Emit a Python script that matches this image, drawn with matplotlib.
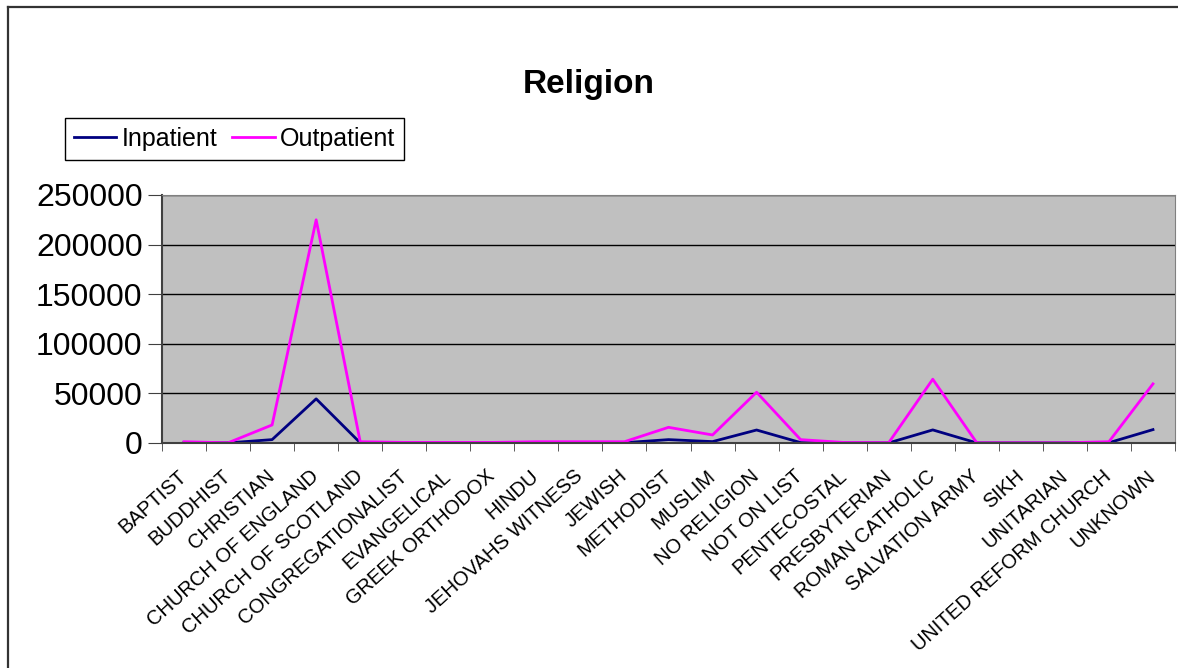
import matplotlib
matplotlib.use("Agg")
import matplotlib.pyplot as plt
import matplotlib.transforms as mtransforms
from matplotlib.lines import Line2D
from matplotlib.ticker import FixedLocator

plt.rcParams['font.family'] = ['Liberation Sans', 'DejaVu Sans']

religions = ['BAPTIST', 'BUDDHIST', 'CHRISTIAN', 'CHURCH OF ENGLAND', 'CHURCH OF SCOTLAND',
             'CONGREGATIONALIST', 'EVANGELICAL', 'GREEK ORTHODOX', 'HINDU', 'JEHOVAHS WITNESS',
             'JEWISH', 'METHODIST', 'MUSLIM', 'NO RELIGION', 'NOT ON LIST', 'PENTECOSTAL',
             'PRESBYTERIAN', 'ROMAN CATHOLIC', 'SALVATION ARMY', 'SIKH', 'UNITARIAN',
             'UNITED REFORM CHURCH', 'UNKNOWN']

inpatient = [400, 100, 3400, 44500, 200, 100, 100, 100, 300, 300,
             300, 3400, 1400, 13100, 400, 100, 100, 13200, 100, 100,
             100, 300, 13500]

outpatient = [1300, 200, 18200, 225000, 1300, 600, 600, 600, 1300, 1300,
              1300, 15800, 8100, 51200, 3400, 500, 300, 64300, 200, 200,
              200, 1300, 59600]

y_ticks = [0, 50000, 100000, 150000, 200000, 250000]

fig = plt.figure(figsize=(11.78, 6.68), dpi=100)
ax = fig.add_axes([162 / 1178, 1 - 443 / 668, 1013 / 1178, 248 / 668])
ax.set_facecolor('#C0C0C0')

x = list(range(len(religions)))
l1, = ax.plot(x, inpatient, color='#000080', lw=2.0, label='Inpatient')
l2, = ax.plot(x, outpatient, color='#FF00FF', lw=2.0, label='Outpatient')

ax.set_xlim(-0.5, len(religions) - 0.5)
ax.set_ylim(0, 250000)
ax.set_yticks(y_ticks)
ax.set_yticklabels([str(v) for v in y_ticks], fontsize=23)
ax.yaxis.grid(True, color='black', lw=1)
ax.set_axisbelow(True)

ax.set_xticks(x)
ax.set_xticklabels(religions, fontsize=14.5, rotation=42, ha='right', va='center',
                   rotation_mode='anchor')
shift = mtransforms.ScaledTranslation(-8 / 100, 0, fig.dpi_scale_trans)
for lab in ax.get_xticklabels():
    lab.set_transform(lab.get_transform() + shift)
ax.xaxis.set_minor_locator(FixedLocator([i - 0.5 for i in range(len(religions) + 1)]))
ax.tick_params(axis='x', which='major', length=0, pad=22)
ax.tick_params(axis='x', which='minor', length=6, color='#404040')
ax.tick_params(axis='y', length=10, pad=4, color='#404040')

for side in ['top', 'right']:
    ax.spines[side].set_color('#808080')
ax.spines['left'].set_color('#404040')
ax.spines['bottom'].set_color('#404040')
ax.spines['left'].set_linewidth(1.5)
ax.spines['bottom'].set_linewidth(1.5)

fig.text(0.5, 1 - 85 / 668, 'Religion', ha='center', va='center', fontsize=24, fontweight='bold')

fig.legend(handles=[l1, l2], loc='upper left', bbox_to_anchor=(65 / 1178, 1 - 118 / 668),
           ncol=2, fontsize=18, frameon=True, fancybox=False, edgecolor='black',
           framealpha=1, borderaxespad=0, handlelength=1.7, handletextpad=0.2,
           columnspacing=0.6, borderpad=0.35)

# chart border (cropped on right and bottom)
fig.add_artist(Line2D([8 / 1178, 8 / 1178], [0, 1 - 6.5 / 668], color='#333333', lw=1.6))
fig.add_artist(Line2D([8 / 1178, 1], [1 - 6.5 / 668, 1 - 6.5 / 668], color='#333333', lw=1.6))

fig.savefig('out.png', dpi=100)
